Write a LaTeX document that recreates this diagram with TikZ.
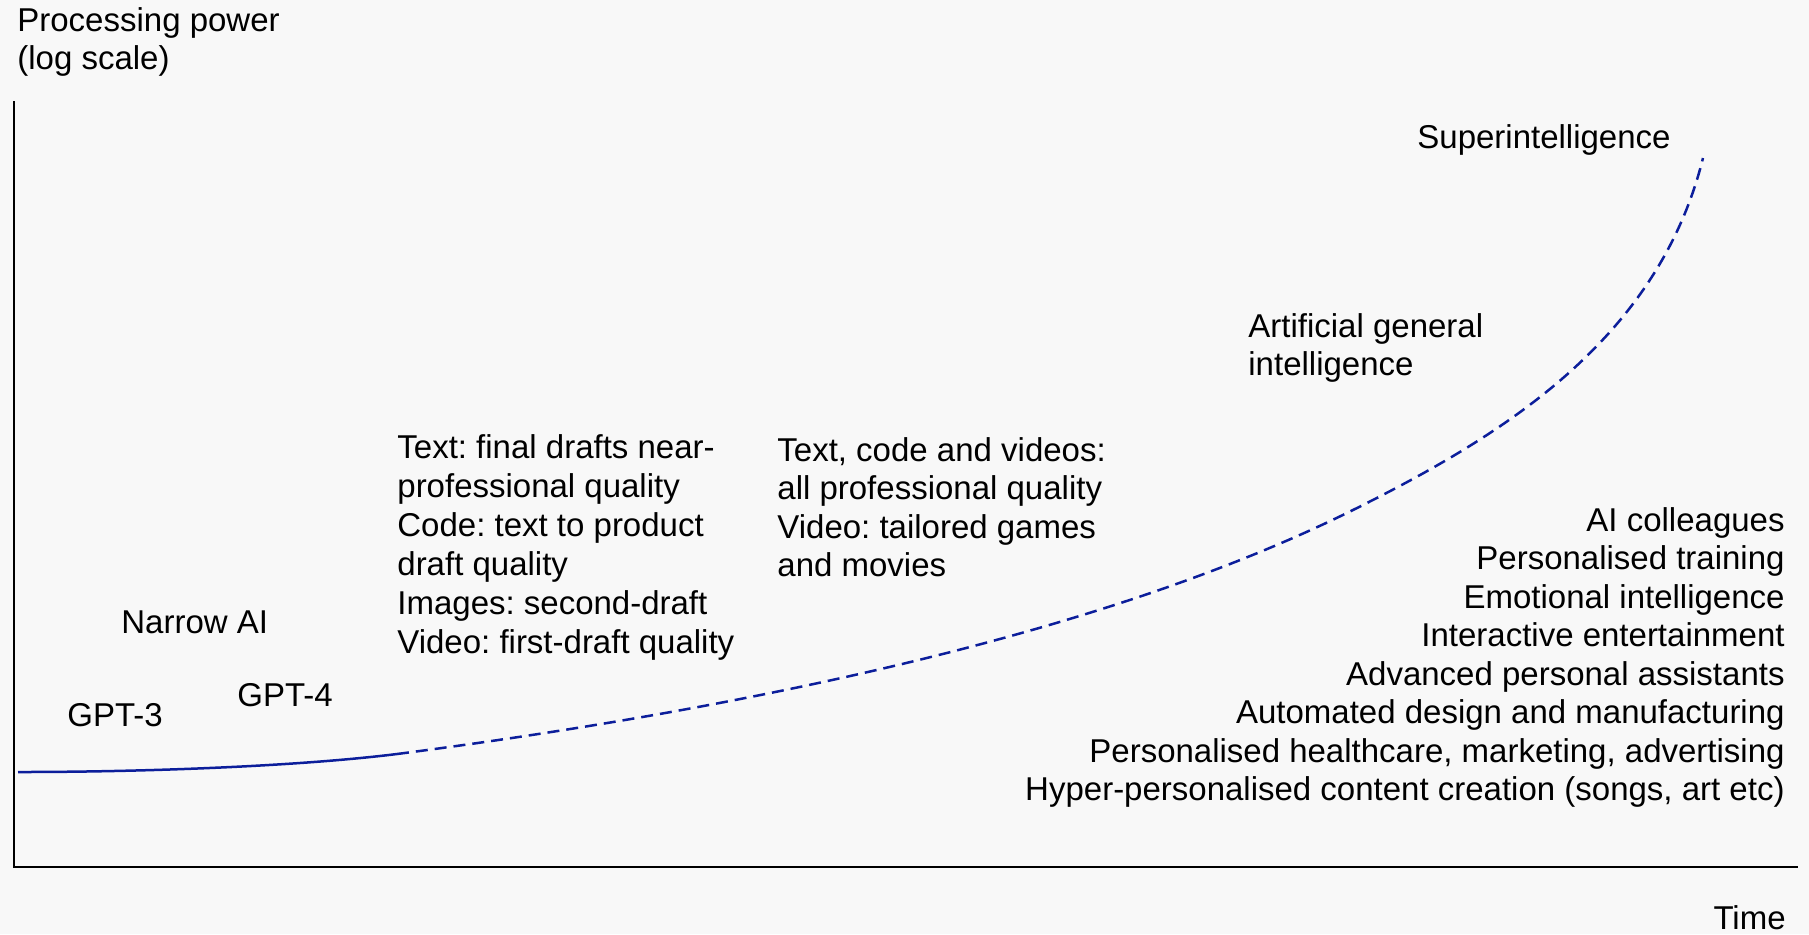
\documentclass[tikz,border=0pt]{standalone}
\usepackage{fontspec}
\setmainfont{Liberation Sans}
\usepackage{xcolor}
\usepackage{tikz}
\usetikzlibrary{calc}

\definecolor{bgcol}{RGB}{248,248,248}
\definecolor{curveblue}{RGB}{12,30,155}

\begin{document}
\frenchspacing
\begin{tikzpicture}[
            x=0.5pt, y=-0.5pt,
            lbl/.style={inner sep=0pt, font=\fontsize{16.5}{19.25}\selectfont},
            axis/.style={line width=1.25pt, line join=miter},
            trend/.style={line width=1.25pt, draw=curveblue},
            future/.style={trend, dash pattern=on 6pt off 3.5pt}
        ]
            \fill[bgcol] (0,0) rectangle (1809,934);
            \useasboundingbox (0,0) rectangle (1809,934);

            % Axes
            \coordinate (top) at (14,101);
            \coordinate (origin) at (14,867);
            \coordinate (right) at (1798,867);
            \draw[axis] (top) -- (origin) -- (right);

            \node[lbl, anchor=north west, align=left] (ylabel) at (17,7) {Processing power\\(log scale)};
            \node[lbl, anchor=base east] (xlabel) at (1786,929) {Time};

            % Curve: achieved part, then projection
            \coordinate (start) at (18,772);
            \coordinate (now) at (397,754);
            \coordinate (agipt) at (1357,508);
            \coordinate (peak) at (1703,158);
            \draw[trend] (start) .. controls (150,772) and (300,766) .. (now);
            \draw[future] (now) .. controls (819,699) and (1139,617) .. (agipt)
                .. controls (1507,433) and (1658,338) .. (peak);

            % Labels
            \node[lbl, anchor=base west] (gpt3) at (67,726) {GPT-3};
            \node[lbl, anchor=base west] (gpt4) at (237,706) {GPT-4};
            \node[lbl, anchor=base west] (narrow) at (121,633) {Narrow AI};
            \node[lbl, anchor=north west, align=left, font=\fontsize{16.5}{19.5}\selectfont] (stagea) at (397,434)
                {Text: final drafts near-\\professional quality\\Code: text to product\\draft quality\\Images: second-draft\\Video: first-draft quality};
            \node[lbl, anchor=north west, align=left] (stageb) at (777,437)
                {Text, code and videos:\\all professional quality\\Video: tailored games\\and movies};
            \node[lbl, anchor=north west, align=left] (agi) at (1248,313)
                {Artificial general\\intelligence};
            \node[lbl, anchor=base west] (superint) at (1417,148) {Superintelligence};

            % Applications
            \node[lbl, anchor=north east, align=right] (uses) at (1785,507)
                {AI colleagues\\Personalised training\\Emotional intelligence\\Interactive entertainment\\Advanced personal assistants\\Automated design and manufacturing\\Personalised healthcare, marketing, advertising\\Hyper-personalised content creation (songs, art etc)};
        \end{tikzpicture}
\end{document}
